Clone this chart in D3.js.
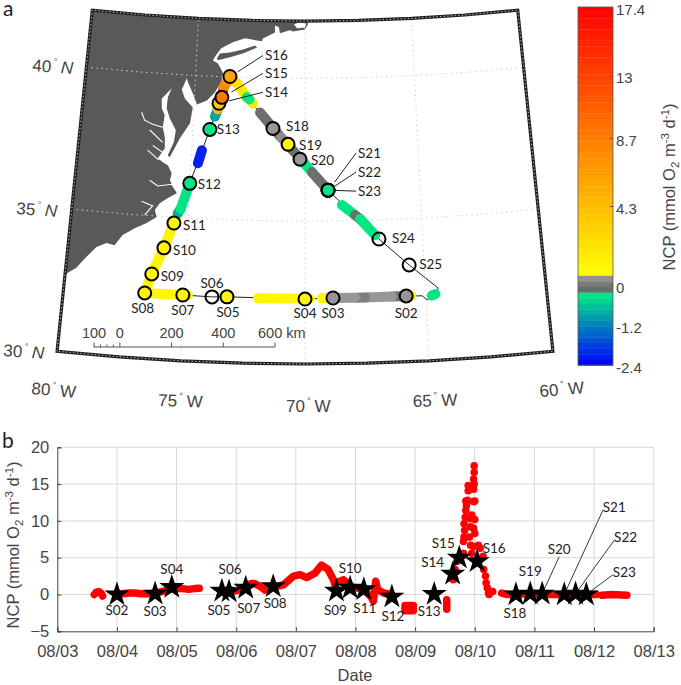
<!DOCTYPE html>
<html>
<head>
<meta charset="utf-8">
<script src="https://cdn.jsdelivr.net/npm/d3@7"></script>
<style>
  body { margin: 0; background: #fff; }
  svg { display: block; }
  text { font-family: "Liberation Sans", Arial, sans-serif; fill: #444; }
  .stn { font-family: Lato, "Noto Sans", sans-serif; font-size: 13.5px; fill: #222; }
</style>
</head>
<body>
<div id="chart"></div>
<script>
// station table, same order in every array
const stationNames = ["S02","S03","S04","S05","S06","S07","S08","S09","S10","S11","S12","S13","S14","S15","S16","S18","S19","S20","S21","S22","S23"];
const stationDay = [4.0,4.64,4.92,5.76,5.88,6.16,6.62,7.68,7.91,8.14,8.61,9.32,9.63,9.74,10.04,10.69,10.93,11.13,11.5,11.69,11.87];
const stationNcp = [0,0.1,1.0,0.5,0.4,0.9,1.1,0.5,0.9,0.7,-0.3,0.05,2.8,5.0,4.5,0,0.1,0.1,0,0.1,0];

// map positions, S24 and S25 have no NCP star
const mapStations = ["S02","S03","S04","S05","S06","S07","S08","S09","S10","S11","S12","S13","S14","S15","S16","S18","S19","S20","S21","S22","S23","S24","S25"];
const mapLon = [-65.81,-68.84,-70,-73.23,-73.85,-75.06,-76.64,-76.4,-75.96,-75.6,-75.01,-74.24,-73.88,-73.76,-73.43,-71.43,-70.75,-70.22,-69.0,-69.0,-69.0,-66.86,-65.63];
const mapLat = [32.3,32.3,32.27,32.3,32.28,32.3,32.29,32.97,33.91,34.8,36.22,38.14,39.07,39.28,40.02,38.24,37.69,37.17,36.08,36.08,36.08,34.33,33.38];
const mapDotNcp = [0.4,0.4,1,1,null,1,1.3,1,1,1,-0.3,-0.3,3.5,9,6,0.42,1,0.42,-0.3,-0.3,-0.3,null,null];

// ship track, start at the east corner, west, north to S16 then back south east
const trackPath = [[-64.61,32.29],[-64.95,32.13],[-65.15,32.28],[-65.81,32.3],[-68.84,32.3],[-70,32.27],[-73.23,32.3],[-73.85,32.28],[-75.06,32.3],[-76.64,32.29],[-76.4,32.97],[-75.96,33.91],[-75.6,34.8],[-75.01,36.22],[-74.24,38.14],[-73.88,39.07],[-73.76,39.28],[-73.43,40.02],[-71.43,38.24],[-70.75,37.69],[-70.22,37.17],[-69.0,36.08],[-66.86,34.33],[-65.63,33.38],[-64.47,32.52],[-64.61,32.29]];

// coloured stretches of the track
const segmentCoords = [
  [[-64.75,32.27],[-64.6,32.32]],
  [[-65.73,32.3],[-65.6,32.3]],
  [[-66.06,32.3],[-65.73,32.3]],
  [[-66.4,32.3],[-66.06,32.3]],
  [[-67.51,32.3],[-66.4,32.3]],
  [[-67.93,32.3],[-67.51,32.3]],
  [[-69.05,32.3],[-67.93,32.3]],
  [[-69.3,32.3],[-69.05,32.3]],
  [[-71.95,32.28],[-69.8,32.28]],
  [[-76.64,32.29],[-74.85,32.3]],
  [[-76.64,32.29],[-76.4,32.97],[-75.96,33.91],[-75.6,34.8],[-75.46,35.15]],
  [[-75.46,35.15],[-75.35,35.3]],
  [[-75.35,35.3],[-75.01,36.22]],
  [[-74.7,36.94],[-74.55,37.4]],
  [[-74.04,38.6],[-73.92,38.86]],
  [[-73.92,38.86],[-73.76,39.28]],
  [[-73.76,39.28],[-73.7,39.63]],
  [[-73.7,39.63],[-73.51,39.88]],
  [[-73.51,39.88],[-73.43,40.02]],
  [[-73.43,40.02],[-73.1,39.79]],
  [[-73.1,39.79],[-72.63,39.31]],
  [[-72.51,39.24],[-72.35,39.1]],
  [[-72.63,39.31],[-72.51,39.24]],
  [[-72.02,38.79],[-71.07,37.93]],
  [[-71.07,37.93],[-70.84,37.76]],
  [[-70.84,37.76],[-70.62,37.55]],
  [[-70.62,37.55],[-70.04,37.03]],
  [[-70.04,37.03],[-69.69,36.71]],
  [[-69.69,36.71],[-69.0,36.08]],
  [[-68.41,35.55],[-67.85,35.19]],
  [[-67.85,35.19],[-67.64,35.05]],
  [[-67.64,35.05],[-67.02,34.47]]
];
const segmentNcp = [-0.3,1,0.42,-0.05,0.42,0.1,0.42,1,1,1,1.2,-0.8,-0.3,-2.1,-0.9,4.3,15,8,6,4.3,1.8,1.8,-0.3,-0.1,0.3,-0.1,-0.1,-0.3,-0.1,-0.3,-0.1,-0.3];

// land, clockwise on screen
const landCoast = [[-80,42],[-77.5,42],[-75,42],[-72.5,42],[-69.9,42],[-69.86,41.89],[-70,41.71],[-70.56,41.64],[-70.7,41.68],[-71.17,41.57],[-71.22,41.78],[-71.41,41.84],[-71.4,41.6],[-71.96,41.38],[-72,41.28],[-72.79,41.37],[-73.35,41.22],[-73.71,41.07],[-73.89,40.99],[-74.11,40.74],[-74.24,40.56],[-74,40.46],[-73.76,40.15],[-73.79,39.87],[-74.08,39.45],[-74.43,39.15],[-74.87,38.99],[-75.08,39.37],[-75.33,39.75],[-75.39,39.89],[-75.59,39.49],[-75.43,39.18],[-75.05,38.88],[-75.14,38.32],[-75.55,37.78],[-75.95,37.09],[-76.04,37.16],[-75.81,37.63],[-75.75,38.05],[-76.05,38.45],[-76.22,38.8],[-76.2,39.18],[-76.05,39.51],[-76.26,39.32],[-76.47,39.13],[-76.44,38.79],[-76.29,38.55],[-76.34,38.13],[-76.22,37.78],[-76.19,37.4],[-76.47,37.03],[-76.24,36.9],[-76.01,36.81],[-75.82,36.54],[-75.88,36.29],[-75.55,35.85],[-75.92,35.66],[-76.26,35.46],[-76.45,35.21],[-76.35,34.97],[-76.76,34.74],[-77.25,34.53],[-77.74,34.26],[-78.05,33.88],[-78.39,33.93],[-78.8,33.76],[-79.19,33.38],[-79.56,32.97],[-80,32.7],[-80,42]];
const longIsland = [[-74.06,40.63],[-73.93,40.81],[-73.47,40.86],[-72.87,40.98],[-72.32,41.13],[-72.22,41.06],[-72.87,40.84],[-73.46,40.69],[-74.01,40.57],[-74.06,40.63]];
const capeBay = [[-70.52,41.89],[-70.23,41.96],[-69.95,41.92],[-70,41.78],[-70.37,41.75],[-70.52,41.89]];
const rivers = [
  [[-77.33,38.6],[-77.17,38.33],[-76.8,38.21],[-76.34,38.13]],
  [[-76.91,38.0],[-76.3,37.6]],
  [[-76.73,37.47],[-76.22,37.22]],
  [[-76.94,37.29],[-76.42,36.97]],
  [[-76.76,36.24],[-76.39,36.06],[-75.79,36.15],[-75.6,35.95]],
  [[-77.04,35.49],[-76.55,35.35]],
  [[-76.87,35.01],[-76.54,35.37]]
];

// NCP time series, day of August and value
const ncpRuns = [
  [[3.62,0],[3.65,0.3],[3.69,0.4],[3.73,0.2],[3.76,-0.2]],
  [[4.0,0],[4.2,0.2],[4.3,0.2],[4.4,0.1],[4.55,0.1],[4.7,0.3],[4.9,0.7],[5.0,0.8],[5.1,0.8],[5.2,0.7],[5.3,0.8],[5.38,0.85]],
  [[5.78,0.5],[6.0,0.5],[6.1,0.8],[6.25,1.5],[6.3,1.5],[6.4,1.1],[6.48,0.6]],
  [[6.62,1],[6.79,1.3],[6.96,2.5],[7.07,2.7],[7.18,2.3],[7.32,2.9],[7.43,4.0],[7.54,3.4],[7.63,2],[7.68,0.7]],
  [[7.74,1.8],[7.8,2],[7.95,1],[8.13,0.7],[8.26,-0.3],[8.3,-0.9],[8.34,1.8],[8.37,0.7],[8.47,0.2],[8.6,0]],
  [[8.83,-1.5],[8.97,-1.5],[8.97,-2.2],[8.83,-2.2],[8.83,-1.5]],
  [[9.53,-0.7],[9.53,-2]],
  [[10.45,0.2],[10.54,0],[10.9,0.1],[11.3,0],[11.7,0],[12.04,0]],
  [[12.13,-0.1],[12.3,0],[12.55,-0.1]]
];
const spikeDays = [9.64,9.67,9.7,9.75,9.81,9.81,9.82,9.83,9.82,9.84,9.85,9.86,9.88,9.85,9.98,10.0,9.89,9.89,9.98,9.99,9.98,9.99,9.99,9.92,10.0,9.95,9.93,9.98,10.0,9.91,9.93,9.98,9.95,10.06,10.09,10.14,10.15,10.18,10.19,10.21,10.24,10.3,10.23];
const spikeVals = [2.0,3.4,4.5,5.2,5.6,7.2,7.8,8.7,9.6,10.5,11.4,12.1,12.8,12.7,12.6,12.7,14.1,14.8,14.3,15,15.7,16.6,17.5,10.3,10.2,10.8,9.2,9,8.3,7.8,6.7,6.5,5.6,6.7,6.3,5.2,3.4,2.5,1.6,0.9,0,0.4,0.2];

const dayTicks = [3,4,5,6,7,8,9,10,11,12,13];
const ncpTicks = [-5,0,5,10,15,20];
const cbTicks = [-2.4,-1.2,0,4.3,8.7,13,17.4];
const scaleBarTicks = [-100,-75,-50,-25,0,200,400,600];
const scaleBarLabels = [-100,0,200,400];

// label offsets from the mark [dx, dy], third item asks for a leader line
const mapLabelOffset = {
  S02:[0,17], S03:[0,15], S04:[0,14], S05:[1,15], S06:[0,-14], S07:[0,15], S08:[-2,15],
  S09:[9,2,0], S10:[9,2,0], S11:[9,2,0], S12:[8,1,0], S13:[7,0,0],
  S14:[46,-11,1], S15:[43,-24,1], S16:[35,-21,1],
  S18:[13,-2,0], S19:[11,1,0], S20:[11,1,0],
  S21:[30,-37,1], S22:[30,-18,1], S23:[30,1,1], S24:[13,-1,0], S25:[10,-1,0]
};
const starLabelOffset = {
  S02:[0,16], S03:[0,17.5], S04:[0,-18], S05:[-3,19], S06:[1,-22], S07:[3,20], S08:[2,17],
  S09:[-1,19], S10:[0,-20], S11:[1,19], S12:[1,20], S13:[-5,17], S14:[-20,-12], S15:[-16,-14],
  S16:[17,-13], S18:[-1,19], S19:[0,-22], S20:[17,-44,1], S21:[50,-87,1], S22:[50,-56,1], S23:[38,-22,1]
};

const svg = d3.select("#chart").append("svg")
    .attr("width", 681)
    .attr("height", 685);

// colour bar scale is not even, ticks were placed by hand in the original
const cb = d3.scaleLinear()
    .domain(cbTicks)
    .range([365,325,285,206,138,75,7]);
const greyLow = -0.21, greyHigh = 0.49;
const coolRamp = d3.scaleLinear().domain([-2.4, greyLow]).range(["#0000ff", "#00f080"]);
const greyRamp = d3.scaleLinear().domain([greyLow, greyHigh]).range(["#666666", "#9c9c9c"]);
const hotRamp = d3.scaleLinear().domain([cb(greyHigh), cb(17.4)]).range(["#ffff00", "#ff0000"]);
const ncpColor = v => v < greyLow ? coolRamp(v) : v <= greyHigh ? greyRamp(v) : hotRamp(cb(v));

const units = (sel) => {
    sel.append("tspan").text("NCP (mmol O");
    sel.append("tspan").attr("dy", 4).style("font-size", "11.5px").text("2");
    sel.append("tspan").attr("dy", -4).text(" m");
    sel.append("tspan").attr("dy", -6).style("font-size", "11.5px").text("-3");
    sel.append("tspan").attr("dy", 6).text(" d");
    sel.append("tspan").attr("dy", -6).style("font-size", "11.5px").text("-1");
    sel.append("tspan").attr("dy", 6).text(")");
};

// ---- panel a ----
const projection = d3.geoConicConformal()
    .parallels([30, 42])
    .rotate([70, 0])
    .center([0, 30])
    .translate([305, 364])
    .scale(1643);
const geo = d3.geoPath(projection);
const line = coords => geo({type: "LineString", coordinates: coords});
const poly = coords => geo({type: "Polygon", coordinates: [coords]});

const mapG = svg.append("g");
const graticule = d3.geoGraticule().extent([[-80, 30], [-60, 42]]).step([5, 5]);

mapG.append("path").attr("d", poly(landCoast)).attr("fill", "#595959");
mapG.append("path").attr("d", poly(longIsland)).attr("fill", "#595959");
mapG.append("path").attr("d", poly(capeBay)).attr("fill", "#fff");
rivers.forEach(r => {
    mapG.append("path").attr("d", line(r)).attr("fill", "none")
        .attr("stroke", "#fff").attr("stroke-width", 1.1);
});
graticule.lines().forEach(g => {
    mapG.append("path").attr("d", geo(g)).attr("fill", "none")
        .attr("stroke", "#d2d2d2").attr("stroke-width", 1).attr("stroke-dasharray", "1.5 3.5");
});

mapG.append("path").attr("d", line(trackPath)).attr("fill", "none")
    .attr("stroke", "#222").attr("stroke-width", 1);

segmentCoords.forEach((s, i) => {
    mapG.append("path").attr("d", line(s)).attr("fill", "none")
        .attr("stroke", ncpColor(segmentNcp[i]))
        .attr("stroke-width", 10)
        .attr("stroke-linecap", "round")
        .attr("stroke-linejoin", "round");
});

mapStations.forEach((name, i) => {
    const [x, y] = projection([mapLon[i], mapLat[i]]);
    const off = mapLabelOffset[name];
    if (off[2] === 1) {
        mapG.append("line").attr("x1", x + off[0] * 0.22).attr("y1", y + off[1] * 0.22)
            .attr("x2", x + off[0] - 2).attr("y2", y + off[1])
            .attr("stroke", "#222").attr("stroke-width", 1);
    }
    if (mapDotNcp[i] !== null) {
        mapG.append("circle").attr("cx", x).attr("cy", y).attr("r", 5.5)
            .attr("fill", ncpColor(mapDotNcp[i]));
    }
    mapG.append("circle").attr("cx", x).attr("cy", y).attr("r", 6.5)
        .attr("fill", "none").attr("stroke", "#000").attr("stroke-width", 2);
    mapG.append("text").attr("class", "stn")
        .attr("x", x + off[0]).attr("y", y + off[1])
        .attr("dy", "0.35em")
        .attr("text-anchor", off.length > 2 ? "start" : "middle")
        .text(name);
});

// frame, black with small white dots
const outline = geo(graticule.outline());
mapG.append("path").attr("d", outline).attr("fill", "none")
    .attr("stroke", "#222").attr("stroke-width", 3.2);
mapG.append("path").attr("d", outline).attr("fill", "none")
    .attr("stroke", "#ddd").attr("stroke-width", 0.9).attr("stroke-dasharray", "1.2 2.4");

// scale bar
const km = d3.scaleLinear().domain([-100, 600]).range([94, 275]);
const barG = svg.append("g");
barG.append("line").attr("x1", km(-100)).attr("x2", km(600)).attr("y1", 347).attr("y2", 347)
    .attr("stroke", "#555").attr("stroke-width", 1.2);
barG.selectAll("line.t").data(scaleBarTicks).enter().append("line")
    .attr("class", "t")
    .attr("x1", d => km(d)).attr("x2", d => km(d))
    .attr("y1", 347).attr("y2", d => d > -100 && d < 0 ? 344.5 : 342.5)
    .attr("stroke", "#555");
barG.selectAll("text").data(scaleBarLabels).enter().append("text")
    .attr("x", d => km(d)).attr("y", 338)
    .attr("text-anchor", "middle")
    .style("font-size", "14.5px")
    .text(d => Math.abs(d));
barG.append("text").attr("x", 258).attr("y", 338).style("font-size", "14.5px").text("600 km");

// lat lon labels
const geoLabel = (x, y, rot, num, hemi) => {
    const t = svg.append("text")
        .attr("transform", `translate(${x},${y}) rotate(${rot})`)
        .style("font-size", "17px");
    t.append("tspan").text(num);
    t.append("tspan").attr("dy", -8).attr("dx", 2).style("font-size", "9px").text("°");
    t.append("tspan").attr("dy", 8).attr("dx", 4)
        .style("font-style", hemi === "N" ? "italic" : "normal").text(hemi);
};
geoLabel(32, 71, 4, "40", "N");
geoLabel(16, 214, 4, "35", "N");
geoLabel(3, 356, 4, "30", "N");
geoLabel(31, 394, 5, "80", "W");
geoLabel(158, 406, 2, "75", "W");
geoLabel(286, 412, 0, "70", "W");
geoLabel(413, 407, -2, "65", "W");
geoLabel(540, 397, -5, "60", "W");

svg.append("text").attr("x", 3).attr("y", 16).style("font-family", "Lato, sans-serif").style("font-size", "21px").style("fill", "#222").text("a");
svg.append("text").attr("x", 2).attr("y", 448).style("font-family", "Lato, sans-serif").style("font-size", "21px").style("fill", "#222").text("b");

// colour bar
const cbG = svg.append("g");
const bandEdges = d3.range(7, 365, 5.6);
cbG.selectAll("rect").data(bandEdges).enter().append("rect")
    .attr("x", 578).attr("width", 35)
    .attr("y", d => d).attr("height", 5.9)
    .attr("fill", d => ncpColor(cb.invert(d + 2.8)));
cbG.append("rect").attr("x", 578).attr("y", 7).attr("width", 35).attr("height", 358)
    .attr("fill", "none").attr("stroke", "#555").attr("stroke-width", 0.8);
const cbAxis = svg.append("g").attr("transform", "translate(613,0)")
    .call(d3.axisRight(cb).tickValues(cbTicks).tickSize(-3).tickFormat(d => d));
cbAxis.select(".domain").remove();
cbAxis.selectAll("line").attr("stroke", "#555");
cbAxis.selectAll("text").style("font-size", "15px").style("font-family", "Liberation Sans").attr("dy", "0.5em");
svg.append("text")
    .attr("transform", "translate(675,187) rotate(-90)")
    .attr("text-anchor", "middle")
    .style("font-size", "16.5px")
    .call(units);

// ---- panel b ----
const x = d3.scaleLinear().domain([3, 13]).range([57.3, 653.7]);
const y = d3.scaleLinear().domain([-5, 20]).range([631.3, 447.3]);

const gridG = svg.append("g");
gridG.selectAll("line.v").data(dayTicks.slice(1)).enter().append("line")
    .attr("class", "v").attr("x1", d => x(d)).attr("x2", d => x(d))
    .attr("y1", y(-5)).attr("y2", y(20))
    .attr("stroke", "#d9d9d9");
gridG.selectAll("line.h").data(ncpTicks.slice(1)).enter().append("line")
    .attr("class", "h").attr("x1", x(3)).attr("x2", x(13))
    .attr("y1", d => y(d)).attr("y2", d => y(d))
    .attr("stroke", "#d9d9d9");

const xAxis = svg.append("g").attr("transform", "translate(0,631.3)")
    .call(d3.axisBottom(x).tickValues(dayTicks).tickSize(-4).tickPadding(14)
        .tickFormat(d => "08/" + String(d).padStart(2, "0")));
const yAxis = svg.append("g").attr("transform", "translate(57.3,0)")
    .call(d3.axisLeft(y).tickValues(ncpTicks).tickSize(-4).tickPadding(8));
[xAxis, yAxis].forEach(a => {
    a.selectAll(".domain, line").attr("stroke", "#444");
    a.selectAll("text").style("font-size", "16.5px").style("font-family", "Liberation Sans");
});

const runLine = d3.line().x(d => x(d[0])).y(d => y(d[1]));
svg.append("g").selectAll("path").data(ncpRuns).enter().append("path")
    .attr("d", runLine)
    .attr("fill", "none")
    .attr("stroke", "#f00")
    .attr("stroke-width", 7.5)
    .attr("stroke-linecap", "round")
    .attr("stroke-linejoin", "round");
svg.append("g").selectAll("circle").data(spikeDays).enter().append("circle")
    .attr("cx", d => x(d))
    .attr("cy", (d, i) => y(spikeVals[i]))
    .attr("r", 3.8)
    .attr("fill", "#f00");

const star = d3.symbol().type(d3.symbolStar).size(195);
stationNames.forEach((name, i) => {
    const sx = x(stationDay[i]), sy = y(stationNcp[i]);
    const off = starLabelOffset[name];
    if (off[2] === 1) {
        svg.append("line").attr("x1", sx).attr("y1", sy)
            .attr("x2", sx + off[0] - (name === "S20" ? 0 : 11)).attr("y2", sy + off[1] + (name === "S20" ? 7 : 2))
            .attr("stroke", "#222").attr("stroke-width", 0.9);
    }
});
stationNames.forEach((name, i) => {
    const sx = x(stationDay[i]), sy = y(stationNcp[i]);
    const off = starLabelOffset[name];
    svg.append("path").attr("d", star())
        .attr("transform", `translate(${sx},${sy})`)
        .attr("fill", "#000");
    svg.append("text").attr("class", "stn")
        .attr("x", sx + off[0]).attr("y", sy + off[1])
        .attr("dy", "0.35em")
        .attr("text-anchor", "middle")
        .text(name);
});

svg.append("text").attr("x", 355).attr("y", 681)
    .attr("text-anchor", "middle").style("font-size", "16.5px").text("Date");
svg.append("text")
    .attr("transform", "translate(19,545) rotate(-90)")
    .attr("text-anchor", "middle")
    .style("font-size", "16.5px")
    .call(units);
</script>
</body>
</html>
